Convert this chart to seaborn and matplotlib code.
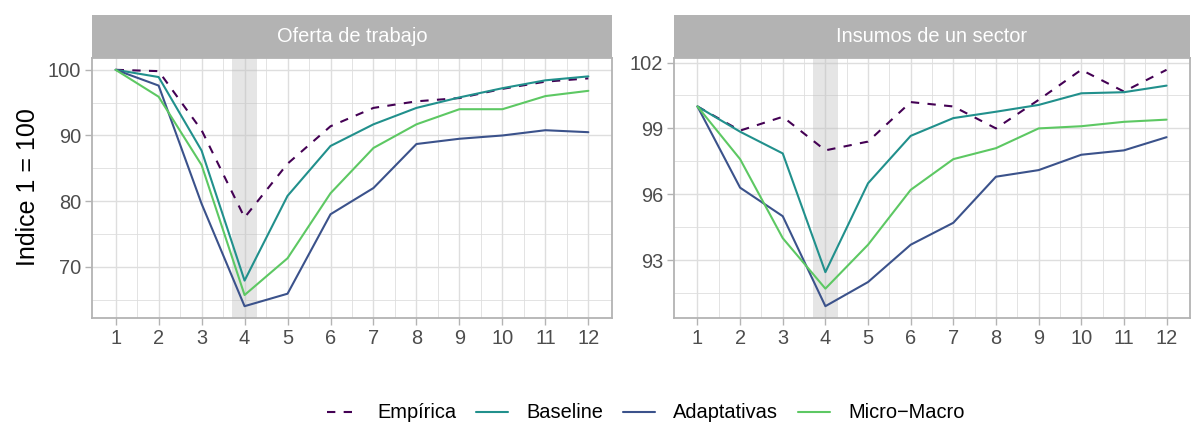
import numpy as np
import pandas as pd
import matplotlib
matplotlib.use("Agg")
import matplotlib.pyplot as plt
import seaborn as sns

# ---------------- data ----------------
meses = list(range(1, 13))
series = ["Empírica", "Baseline", "Adaptativas", "Micro−Macro"]
paneles = ["Oferta de trabajo", "Insumos de un sector"]

oferta_empirica    = [100, 99.8, 90.8, 77.5, 85.7, 91.4, 94.2, 95.2, 95.7, 97.1, 98.2, 98.7]
oferta_baseline    = [100, 98.9, 87.7, 67.9, 80.8, 88.4, 91.7, 94.2, 95.8, 97.2, 98.4, 99.0]
oferta_adaptativas = [100, 97.6, 79.6, 64.0, 65.9, 78.0, 82.0, 88.7, 89.5, 90.0, 90.8, 90.5]
oferta_micromacro  = [100, 95.9, 85.5, 65.7, 71.3, 81.2, 88.1, 91.7, 94.0, 94.0, 96.0, 96.8]

insumos_empirica    = [100, 98.9, 99.53, 98.0, 98.4, 100.2, 100.0, 99.0, 100.3, 101.67, 100.68, 101.67]
insumos_baseline    = [100, 98.85, 97.86, 92.45, 96.5, 98.66, 99.47, 99.76, 100.07, 100.6, 100.65, 100.95]
insumos_adaptativas = [100, 96.3, 95.0, 90.9, 92.0, 93.7, 94.7, 96.8, 97.1, 97.8, 98.0, 98.6]
insumos_micromacro  = [100, 97.6, 94.0, 91.7, 93.7, 96.2, 97.6, 98.1, 99.0, 99.1, 99.3, 99.4]

y_ticks_oferta = [70, 80, 90, 100]
y_ticks_insumos = [93, 96, 99, 102]
shock_inicio, shock_fin = 3.7, 4.3

colores = {"Empírica": "#440154", "Baseline": "#21908C",
           "Adaptativas": "#3B528B", "Micro−Macro": "#5DC863"}
dashes = {"Empírica": (4, 4), "Baseline": "", "Adaptativas": "", "Micro−Macro": ""}

datos = {
    "Oferta de trabajo": [oferta_empirica, oferta_baseline, oferta_adaptativas, oferta_micromacro],
    "Insumos de un sector": [insumos_empirica, insumos_baseline, insumos_adaptativas, insumos_micromacro],
}
rows = []
for p in paneles:
    for s, vals in zip(series, datos[p]):
        for m, v in zip(meses, vals):
            rows.append({"panel": p, "serie": s, "mes": m, "valor": v})
df = pd.DataFrame(rows)

# ---------------- style ----------------
sns.set_theme(style="white")
plt.rcParams["font.family"] = ["Liberation Sans", "DejaVu Sans"]

W, H = 1192, 426
fig = plt.figure(figsize=(W / 100, H / 100), dpi=100)

panel_px = {"Oferta de trabajo": (92, 612), "Insumos de un sector": (674, 1190)}
top_px, bot_px, strip_top = 58, 318, 15

grid_col = "#DEDEDE"
border_col = "#B3B3B3"
text_col = "#4D4D4D"

axes = []
for p, yt in zip(paneles, [y_ticks_oferta, y_ticks_insumos]):
    x0, x1 = panel_px[p]
    ax = fig.add_axes([x0 / W, 1 - bot_px / H, (x1 - x0) / W, (bot_px - top_px) / H])
    sub = df[df["panel"] == p]
    sns.lineplot(data=sub, x="mes", y="valor", hue="serie", style="serie",
                 hue_order=series, style_order=series, palette=colores,
                 dashes=dashes, linewidth=1.5, ax=ax, legend=True, zorder=3)
    ax.axvspan(shock_inicio, shock_fin, color="#BEBEBE", alpha=0.4, zorder=1.5, lw=0)
    ymin, ymax = sub["valor"].min(), sub["valor"].max()
    r = ymax - ymin
    ax.set_xlim(0.45, 12.55)
    ax.set_xticks(meses)
    ax.set_xticks([m + 0.5 for m in meses[:-1]], minor=True)
    ax.set_yticks(yt)
    step = yt[1] - yt[0]
    ax.set_yticks([yt[0] - step / 2] + [t + step / 2 for t in yt], minor=True)
    ax.set_ylim(ymin - 0.05 * r, ymax + 0.05 * r)
    ax.grid(True, which="major", color=grid_col, lw=1.0, zorder=0)
    ax.grid(True, which="minor", color=grid_col, lw=0.6, zorder=0)
    ax.set_axisbelow(True)
    for s in ax.spines.values():
        s.set_color(border_col)
        s.set_linewidth(1.3)
        s.set_visible(True)
    ax.tick_params(which="major", length=5, width=1.0, color=border_col,
                   labelsize=14.4, labelcolor=text_col, pad=3, left=True, bottom=True)
    ax.tick_params(which="minor", length=0)
    ax.set_xlabel("")
    ax.set_ylabel("")
    handles, labels = ax.get_legend_handles_labels()
    ax.get_legend().remove()
    # strip
    sax = fig.add_axes([x0 / W, 1 - top_px / H, (x1 - x0) / W, (top_px - strip_top) / H])
    sax.set_facecolor(border_col)
    sax.set_xticks([]); sax.set_yticks([])
    for s in sax.spines.values():
        s.set_visible(False)
    sax.text(0.5, 0.5, p, color="white", fontsize=14.4, ha="center", va="center",
             transform=sax.transAxes)
    axes.append((ax, handles, labels))

fig.text(28 / W, 1 - 187 / H, "Indice 1 = 100", rotation=90, fontsize=18,
         ha="center", va="center", color="black")

ax, handles, labels = axes[0]
leg = fig.legend(handles, labels, loc="center", bbox_to_anchor=(646 / W, 1 - 413 / H),
                 ncol=4, frameon=False, fontsize=14.4, handlelength=1.6,
                 handletextpad=0.9, columnspacing=1.0)
for t in leg.get_texts():
    t.set_color("black")

fig.savefig("out.png", dpi=100)
